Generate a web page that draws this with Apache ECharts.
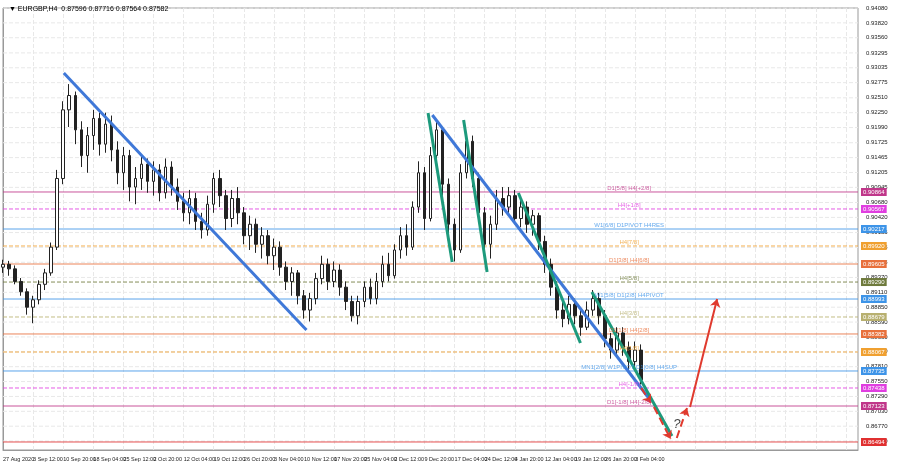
<!DOCTYPE html>
<html><head><meta charset="utf-8">
<script src="https://cdn.jsdelivr.net/npm/echarts@6/dist/echarts.min.js"></script>
<style>html,body{margin:0;padding:0;background:#fff}#c{width:900px;height:468px}</style>
</head><body><div id="c"></div>
<script>
const timeLabels=["27 Aug 2020","3 Sep 12:00","10 Sep 20:00","18 Sep 04:00","25 Sep 12:00","2 Oct 20:00","12 Oct 04:00","19 Oct 12:00","26 Oct 20:00","3 Nov 04:00","10 Nov 12:00","17 Nov 20:00","25 Nov 04:00","2 Dec 12:00","9 Dec 20:00","17 Dec 04:00","24 Dec 12:00","4 Jan 20:00","12 Jan 04:00","19 Jan 12:00","26 Jan 20:00","3 Feb 04:00"];
const priceTicks=[0.94080,0.93820,0.93560,0.93295,0.93035,0.92775,0.92510,0.92250,0.91990,0.91725,0.91465,0.91205,0.90945,0.90680,0.90420,0.90155,0.89895,0.89635,0.89370,0.89110,0.88850,0.88590,0.88330,0.88070,0.87810,0.87550,0.87290,0.87030,0.86770,0.86510];
// [open, close, low, high]
const candles=[
[0.8955,0.8960,0.8945,0.8968],[0.8960,0.8952,0.8940,0.8966],[0.8952,0.8930,0.8925,0.8958],[0.8930,0.8912,0.8905,0.8936],
[0.8912,0.8885,0.8872,0.8918],[0.8885,0.8898,0.8857,0.8905],[0.8898,0.8925,0.8890,0.8932],[0.8925,0.8945,0.8915,0.8952],
[0.8945,0.8990,0.8940,0.8998],[0.8990,0.9110,0.8985,0.9125],[0.9110,0.9230,0.9100,0.9245],[0.9230,0.9255,0.9200,0.9275],
[0.9255,0.9195,0.9170,0.9262],[0.9195,0.9150,0.9130,0.9210],[0.9150,0.9185,0.9120,0.9200],[0.9185,0.9215,0.9160,0.9230],
[0.9215,0.9170,0.9150,0.9225],[0.9170,0.9205,0.9155,0.9225],[0.9205,0.9160,0.9140,0.9220],[0.9160,0.9120,0.9100,0.9175],
[0.9120,0.9150,0.9090,0.9165],[0.9150,0.9095,0.9070,0.9160],[0.9095,0.9110,0.9065,0.9130],[0.9110,0.9135,0.9090,0.9150],
[0.9135,0.9105,0.9085,0.9145],[0.9105,0.9125,0.9080,0.9140],[0.9125,0.9085,0.9070,0.9135],[0.9085,0.9130,0.9075,0.9145],
[0.9130,0.9095,0.9080,0.9140],[0.9095,0.9070,0.9055,0.9110],[0.9070,0.9050,0.9035,0.9085],[0.9050,0.9075,0.9030,0.9090],
[0.9075,0.9035,0.9020,0.9085],[0.9035,0.9020,0.9005,0.9050],[0.9020,0.9065,0.9010,0.9080],[0.9065,0.9110,0.9050,0.9120],
[0.9110,0.9080,0.9060,0.9125],[0.9080,0.9040,0.9020,0.9090],[0.9040,0.9075,0.9025,0.9090],[0.9075,0.9050,0.9030,0.9095],
[0.9050,0.9010,0.8995,0.9060],[0.9010,0.9030,0.8985,0.9045],[0.9030,0.8995,0.8980,0.9040],[0.8995,0.9010,0.8970,0.9025],
[0.9010,0.8975,0.8960,0.9020],[0.8975,0.8990,0.8950,0.9005],[0.8990,0.8955,0.8940,0.9000],[0.8955,0.8930,0.8915,0.8965],
[0.8930,0.8945,0.8905,0.8955],[0.8945,0.8905,0.8890,0.8950],[0.8905,0.8880,0.8865,0.8915],[0.8880,0.8900,0.8860,0.8910],
[0.8900,0.8935,0.8890,0.8945],[0.8935,0.8960,0.8925,0.8975],[0.8960,0.8930,0.8915,0.8970],[0.8930,0.8950,0.8920,0.8965],
[0.8950,0.8920,0.8905,0.8960],[0.8920,0.8895,0.8880,0.8930],[0.8895,0.8870,0.8860,0.8905],[0.8870,0.8895,0.8855,0.8905],
[0.8895,0.8920,0.8885,0.8930],[0.8920,0.8900,0.8890,0.8935],[0.8900,0.8930,0.8890,0.8945],[0.8930,0.8960,0.8920,0.8975],
[0.8960,0.8940,0.8930,0.8980],[0.8940,0.8985,0.8935,0.8995],[0.8985,0.9010,0.8970,0.9025],[0.9010,0.8990,0.8975,0.9030],
[0.8990,0.9060,0.8985,0.9070],[0.9060,0.9120,0.9050,0.9140],[0.9120,0.9040,0.9020,0.9130],[0.9040,0.9150,0.9035,0.9165],
[0.9150,0.9195,0.9130,0.9210],[0.9195,0.9100,0.9080,0.9200],[0.9100,0.9030,0.9010,0.9110],[0.9030,0.8985,0.8965,0.9040],
[0.8985,0.9120,0.8980,0.9135],[0.9120,0.9175,0.9110,0.9190],[0.9175,0.9110,0.9095,0.9185],[0.9110,0.9050,0.9035,0.9120],
[0.9050,0.8995,0.8980,0.9060],[0.8995,0.9030,0.8970,0.9045],[0.9030,0.9075,0.9020,0.9090],[0.9075,0.9060,0.9045,0.9095],
[0.9060,0.9080,0.9045,0.9095],[0.9080,0.9040,0.9030,0.9090],[0.9040,0.9060,0.9025,0.9075],[0.9060,0.9030,0.9015,0.9070],
[0.9030,0.9045,0.9010,0.9055],[0.9045,0.9000,0.8985,0.9050],[0.9000,0.8960,0.8945,0.9010],[0.8960,0.8920,0.8905,0.8970],
[0.8920,0.8880,0.8865,0.8930],[0.8880,0.8865,0.8850,0.8895],[0.8865,0.8890,0.8855,0.8905],[0.8890,0.8870,0.8855,0.8900],
[0.8870,0.8850,0.8835,0.8880],[0.8850,0.8880,0.8845,0.8895],[0.8880,0.8900,0.8870,0.8915],[0.8900,0.8870,0.8855,0.8910],
[0.8870,0.8830,0.8815,0.8880],[0.8830,0.8810,0.8795,0.8840],[0.8810,0.8840,0.8800,0.8850],[0.8840,0.8815,0.8800,0.8850],
[0.8815,0.8790,0.8775,0.8825],[0.8790,0.8810,0.8780,0.8825],[0.8810,0.8758,0.8750,0.8820]];
const levelPrices=[0.90864,0.90567,0.90217,0.89920,0.89605,0.89290,0.88993,0.88679,0.88382,0.88067,0.87735,0.87438,0.87123,0.86494];
const levelNames=["D1[5/8] H4[+2/8]","H4[+1/8]","W1[6/8] D1PIVOT H4RES","H4[7/8]","D1[3/8] H4[6/8]","H4[5/8]","W1[5/8] D1[2/8] H4PIVOT","H4[3/8]","D1[1/8] H4[2/8]","H4[1/8]","MN1[2/8] W1PIVOT D1[0/8] H4SUP","H4[-1/8]","D1[-1/8] H4[-2/8]",""];
const levelColors=["#c0378a","#e03ee0","#3d94e8","#f0a030","#e8703c","#6e7a3c","#3d94e8","#b8b070","#e8703c","#f0a030","#3d94e8","#e03ee0","#c0378a","#e03030"];
const levelDashed=[false,true,false,true,false,true,false,true,false,true,false,true,false,false];
const blueLines=[[[10.1,0.92944],[50.4,0.88452]],[[71.3,0.92210],[107.5,0.87228]]];
const greenLines=[[[70.6,0.92245],[74.6,0.89640]],[[76.5,0.92122],[80.4,0.89465]],[[85.6,0.90846],[95.9,0.88224]],[[97.8,0.89116],[111.1,0.86599]]];
const redDashed=[[[106.0,0.87438],[107.6,0.87176]],[[108.1,0.87106],[110.9,0.86546]],[[111.9,0.86564],[113.6,0.87089]]];
const redSolid=[[[114.1,0.87106],[118.6,0.88994]]];
const nCat=143;

const cats=[];for(let i=0;i<nCat;i++)cats.push(i%5===0&&timeLabels[i/5]?timeLabels[i/5]:'');
const lineSeries=(arr,color,w,type)=>arr.map(d=>({type:'line',xAxisIndex:1,data:d,symbol:'none',lineStyle:{color,width:w,type},silent:true,z:5}));
const arrowSeries=(arr,color,type)=>({type:'lines',coordinateSystem:'cartesian2d',xAxisIndex:1,silent:true,z:6,symbol:['none','arrow'],symbolSize:8,
  lineStyle:{color,width:2,type,opacity:1},data:arr.map(d=>({coords:d}))});
const gridSeries=priceTicks.map(p=>({type:'line',xAxisIndex:1,silent:true,symbol:'none',z:1,data:[[0,p],[nCat-1,p]],lineStyle:{color:'#e8e8e8',type:'dashed',width:1}}));
const levelSeries=levelPrices.map((p,i)=>({type:'line',xAxisIndex:1,silent:true,symbol:'none',z:2,data:[[0,p],[nCat-1,p]],
  lineStyle:{color:levelColors[i],type:levelDashed[i]?'dashed':'solid',width:1,opacity:0.85},
  endLabel:{show:true,formatter:p.toFixed(5),backgroundColor:levelColors[i],color:'#fff',fontSize:6,padding:[1,2],distance:3,fontFamily:'Liberation Sans'}}));
const chart=echarts.init(document.getElementById('c'));
chart.setOption({
 animation:false,backgroundColor:'#fff',
 title:{text:'\u25BC EURGBP,H4  0.87596 0.87716 0.87564 0.87582',left:4,top:1,textStyle:{fontSize:7,fontWeight:'normal',color:'#000',fontFamily:'Liberation Sans'}},
 grid:{left:2,right:42,top:8,bottom:18,show:true,borderColor:'#999',borderWidth:1},
 xAxis:[{type:'category',data:cats,boundaryGap:false,axisTick:{show:false},axisLine:{lineStyle:{color:'#999'}},
   axisLabel:{interval:0,fontSize:5.5,color:'#222',align:'left',margin:6,fontFamily:'Liberation Sans'},
   splitLine:{show:true,interval:(i)=>i%5===0,lineStyle:{color:'#e8e8e8',type:'dashed'}}},
  {type:'value',min:0,max:nCat-1,show:false}],
 yAxis:{type:'value',position:'right',min:0.86354,max:0.9408,scale:true,
   axisLine:{show:true,lineStyle:{color:'#999'}},axisTick:{show:false},splitLine:{show:false},
   axisLabel:{customValues:priceTicks,fontSize:6,color:'#222',formatter:v=>v.toFixed(5),fontFamily:'Liberation Sans'}},
 series:[
  ...gridSeries,
  ...levelSeries,
  {type:'candlestick',data:candles,barWidth:3,itemStyle:{color:'#fff',color0:'#222',borderColor:'#222',borderColor0:'#222',borderWidth:1},z:3},
  {type:'scatter',xAxisIndex:1,symbolSize:0,silent:true,z:6,data:levelPrices.map((p,i)=>({value:[104,p],label:{show:!!levelNames[i],formatter:levelNames[i],position:'top',distance:1,color:levelColors[i],fontSize:6,fontFamily:'Liberation Sans'}}))},
  ...lineSeries(blueLines,'#3f78d8',3,'solid'),
  ...lineSeries(greenLines,'#1d9a7c',3,'solid'),
  arrowSeries(redDashed,'#e03a2e','dashed'),
  arrowSeries(redSolid,'#e03a2e','solid'),
  {type:'scatter',xAxisIndex:1,symbolSize:0,silent:true,data:[{value:[111.9,0.8681],label:{show:true,formatter:'?',position:'inside',fontSize:13,fontStyle:'italic',color:'#111'}}]}
 ]
});
</script></body></html>
